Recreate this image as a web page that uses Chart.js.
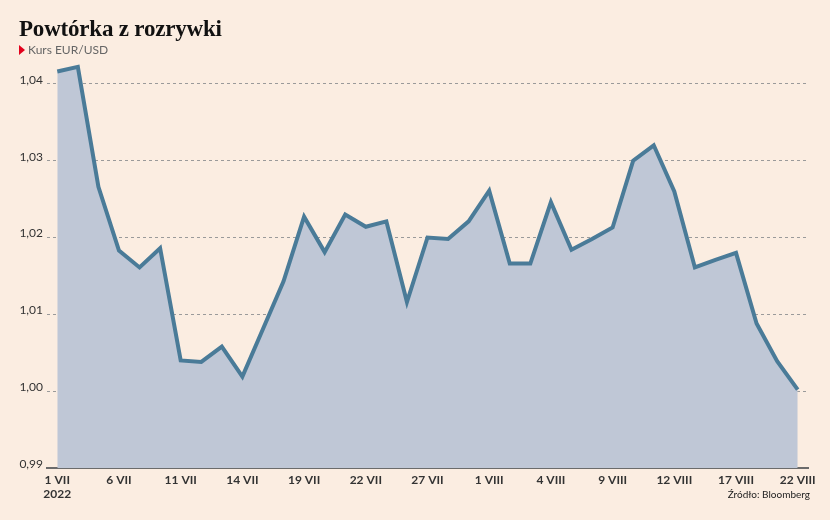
<!DOCTYPE html>
<html lang="pl">
<head>
  <meta charset="UTF-8">
  <title>Powtórka z rozrywki</title>
  <script src="https://cdn.jsdelivr.net/npm/chart.js"></script>
  <style>
    body {
      margin: 0;
      background: #fbede1;
      font-family: Lato, Arial, sans-serif;
    }
    .wrap {
      position: relative;
      width: 830px;
      height: 520px;
    }
    h1 {
      position: absolute;
      left: 19px;
      top: 16px;
      margin: 0;
      font-family: "Liberation Serif", serif;
      font-weight: bold;
      font-size: 23px;
      color: #111;
      letter-spacing: -0.2px;
    }
    .sub {
      position: absolute;
      left: 19px;
      top: 42px;
      font-size: 12px;
      color: #666;
    }
    .sub::before {
      content: "";
      display: inline-block;
      border-left: 6px solid #e3001b;
      border-top: 5px solid transparent;
      border-bottom: 5px solid transparent;
      margin-right: 3px;
      vertical-align: -1px;
    }
    .src {
      position: absolute;
      right: 20px;
      top: 488px;
      font-size: 10px;
      color: #222;
    }
    canvas {
      position: absolute;
      left: 0;
      top: 0;
    }
  </style>
</head>
<body>
  <div class="wrap">
    <canvas id="wykres" width="830" height="520"></canvas>
    <h1>Powtórka z rozrywki</h1>
    <div class="sub">Kurs EUR/USD</div>
    <div class="src">Źródło: Bloomberg</div>
  </div>

  <script>
    // dni notowań od 1 VII do 22 VIII 2022
    const dni = [
      '1 VII', '4 VII', '5 VII', '6 VII', '7 VII', '8 VII',
      '11 VII', '12 VII', '13 VII', '14 VII', '15 VII',
      '18 VII', '19 VII', '20 VII', '21 VII', '22 VII',
      '25 VII', '26 VII', '27 VII', '28 VII', '29 VII',
      '1 VIII', '2 VIII', '3 VIII', '4 VIII', '5 VIII',
      '8 VIII', '9 VIII', '10 VIII', '11 VIII', '12 VIII',
      '15 VIII', '16 VIII', '17 VIII', '18 VIII', '19 VIII',
      '22 VIII'
    ];
    const kurs = [
      1.0416, 1.0422, 1.0266, 1.0183, 1.0161, 1.0186,
      1.0040, 1.0038, 1.0058, 1.0019, 1.0081,
      1.0143, 1.0227, 1.0181, 1.0230, 1.0214,
      1.0221, 1.0116, 1.0200, 1.0198, 1.0221,
      1.0261, 1.0166, 1.0166, 1.0246, 1.0184,
      1.0198, 1.0213, 1.0300, 1.0320, 1.0260,
      1.0161, 1.0171, 1.0180, 1.0088, 1.0039,
      1.0002
    ];
    const yTicks = [0.99, 1.00, 1.01, 1.02, 1.03, 1.04];
    const rok = '2022';

    new Chart(document.getElementById('wykres'), {
      type: 'line',
      data: {
        labels: dni,
        datasets: [{
          data: kurs,
          borderColor: '#4a7b98',
          backgroundColor: '#bfc7d6',
          borderWidth: 4,
          fill: 'start',
          pointRadius: 0,
          tension: 0
        }]
      },
      options: {
        responsive: false,
        animation: false,
        layout: { padding: { top: 60, right: 22, left: 0, bottom: 0 } },
        plugins: {
          legend: { display: false },
          tooltip: { enabled: false }
        },
        scales: {
          x: {
            offset: true,
            grid: { display: false, drawTicks: false },
            border: { display: true, color: '#6b6b6b', width: 2 },
            ticks: {
              autoSkip: false,
              maxRotation: 0,
              padding: 6,
              color: '#333',
              font: { family: 'Lato', size: 12, weight: 'bold', lineHeight: 1.1 },
              callback: (v, i) => {
                if (i % 3 !== 0) return null;
                return i === 0 ? [dni[i], rok] : dni[i];
              }
            },
            afterFit: s => { s.height = 52; }
          },
          y: {
            min: 0.99,
            max: 1.0431,
            grid: {
              color: '#9a9a9a',
              lineWidth: 1,
              drawTicks: false
            },
            border: { display: false, dash: [3, 3] },
            afterBuildTicks: s => { s.ticks = yTicks.map(v => ({ value: v })); },
            afterFit: s => { s.width = 47; },
            ticks: {
              padding: 4,
              labelOffset: -4,
              color: '#333',
              font: { family: 'Lato', size: 12 },
              callback: v => v.toFixed(2).replace('.', ',')
            }
          }
        }
      }
    });
  </script>
</body>
</html>
